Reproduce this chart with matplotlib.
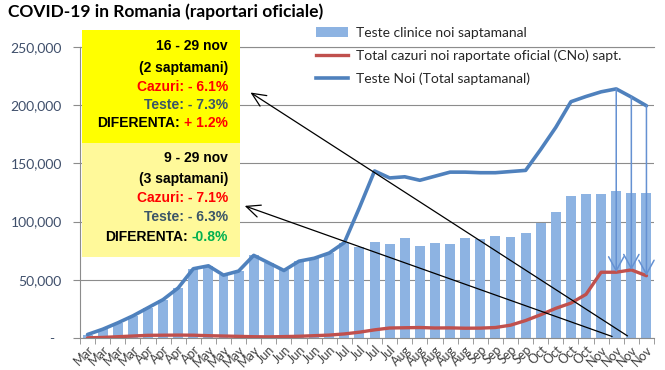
import numpy as np
import matplotlib
matplotlib.use('Agg')
import matplotlib.pyplot as plt
from matplotlib.patches import Rectangle, Patch
from matplotlib.lines import Line2D
from matplotlib.ticker import FuncFormatter

# Date saptamanale (martie - noiembrie 2020)
luni = (['Mar'] * 4 + ['Apr'] * 4 + ['May'] * 4 + ['Jun'] * 5 + ['Jul'] * 4
        + ['Aug'] * 5 + ['Sep'] * 4 + ['Oct'] * 4 + ['Nov'] * 4)

teste_clinice = [3000, 7500, 13000, 19000, 26000, 33000, 43000, 59500, 62000, 54000,
                 57500, 71000, 64500, 58000, 66000, 68500, 73000, 82000, 78500, 82500,
                 80500, 85500, 79000, 81500, 80500, 86000, 85000, 87500, 87000, 90000,
                 98500, 108500, 122000, 124000, 123500, 126500, 125000, 125000]

teste_total = [3000, 7500, 13000, 19000, 26000, 33000, 43000, 59500, 62000, 54000,
               57500, 71000, 64500, 58000, 66000, 68500, 73000, 82000, 112000, 143500,
               137500, 138500, 135500, 139000, 142500, 142500, 142000, 142000, 143000, 144000,
               162000, 181000, 203000, 207500, 211500, 214000, 207000, 199500]

cazuri = [150, 500, 1100, 1700, 2300, 2400, 2500, 2400, 2000, 1700,
          1400, 1100, 1000, 1200, 1500, 2000, 2500, 3500, 5000, 7000,
          8600, 8800, 9000, 8600, 8700, 8400, 8500, 9000, 11000, 15000,
          20000, 25500, 30000, 37500, 56500, 56500, 58500, 53500]

# saptamanile cu sageti verticale (ultimele 3)
sapt_sageti = [35, 36, 37]

plt.rcParams['font.family'] = ['Lato', 'DejaVu Sans']
font_box = 'Liberation Sans'

W, H = 665, 370
fig = plt.figure(figsize=(W / 100, H / 100), dpi=100)
ax = fig.add_axes([80 / W, 1 - 338 / H, (654 - 80) / W, (338 - 47) / H])

x = np.arange(len(luni))
c_bar = '#8DB3E2'
c_blue = '#4F81BD'
c_red = '#C0504D'
c_grid = '#8C8C8C'

ax.bar(x, teste_clinice, width=0.66, color=c_bar, zorder=2)
ax.plot(x, cazuri, color=c_red, lw=2.4, zorder=3, solid_capstyle='round')
ax.plot(x, teste_total, color=c_blue, lw=2.6, zorder=3, solid_capstyle='round')

ax.set_xlim(-0.5, len(luni) - 0.5)
ax.set_ylim(0, 250000)
ax.set_yticks(np.arange(0, 250001, 50000))
ax.yaxis.set_major_formatter(FuncFormatter(lambda v, p: '-  ' if v == 0 else f'{v:,.0f}'))
ax.grid(axis='y', color=c_grid, lw=0.8, zorder=1)
ax.set_axisbelow(True)

ax.spines['right'].set_visible(False)
for s in ['left', 'bottom', 'top']:
    ax.spines[s].set_color(c_grid)
    ax.spines[s].set_linewidth(0.8)

ax.set_xticks(x)
ax.set_xticklabels(luni, rotation=45, ha='right', va='top', rotation_mode='anchor',
                   fontsize=9, color='#404040')
ax.set_xticks(np.arange(-0.5, len(luni), 1), minor=True)
ax.tick_params(axis='x', which='major', length=0, pad=4)
ax.tick_params(axis='x', which='minor', length=4, color=c_grid)
ax.tick_params(axis='y', length=5, color=c_grid, labelsize=10, labelcolor='#3F4F6B', pad=8)

# sageti verticale teste -> cazuri
for i in sapt_sageti:
    ax.annotate('', xy=(i, cazuri[i]), xytext=(i, teste_total[i]),
                arrowprops=dict(arrowstyle='->,head_length=1.0,head_width=0.55',
                                color='#6591D2', lw=1.1, shrinkA=0, shrinkB=0), zorder=5)

# sageti negre catre casete
ax.annotate('', xy=(10.63, 212200), xytext=(35.9, 500), annotation_clip=False,
            arrowprops=dict(arrowstyle='->,head_length=1.0,head_width=0.45', color='black', lw=0.9),
            zorder=6)
ax.annotate('', xy=(10.23, 114300), xytext=(34.9, 500), annotation_clip=False,
            arrowprops=dict(arrowstyle='->,head_length=1.0,head_width=0.45', color='black', lw=0.9),
            zorder=6)

# titlu
fig.text(8 / W, 1 - 12 / H, 'COVID-19 in Romania (raportari oficiale)', fontsize=12.5,
         fontweight='bold', ha='left', va='center', color='black')

# legenda
handles = [Patch(facecolor=c_bar), Line2D([], [], color=c_red, lw=2.4),
           Line2D([], [], color=c_blue, lw=2.6)]
labels = ['Teste clinice noi saptamanal', 'Total cazuri noi raportate oficial (CNo) sapt.',
          'Teste Noi (Total saptamanal)']
fig.legend(handles, labels, loc='upper left', bbox_to_anchor=(316 / W, 1 - 27 / H),
           frameon=False, fontsize=10, handlelength=2.3, handletextpad=0.55,
           labelspacing=0.75, borderpad=0, borderaxespad=0, labelcolor='#262626')

# casete galbene
fig.add_artist(Rectangle((82 / W, 1 - 143 / H), (240 - 82) / W, (143 - 30) / H,
                         transform=fig.transFigure, facecolor='#FFFF00', edgecolor='none', zorder=4))
fig.add_artist(Rectangle((82 / W, 1 - 257 / H), (240 - 82) / W, (257 - 143) / H,
                         transform=fig.transFigure, facecolor='#FFF99A', edgecolor='none', zorder=4))

c_teste = '#3B5568'
xr = 228 / W


def rand(y, txt, col='black'):
    return fig.text(xr, 1 - y / H, txt, ha='right', va='center', color=col, fontsize=10,
                    fontweight='bold', family=font_box, zorder=7)


rand(46, '16 - 29 nov')
rand(68, '(2 saptamani)')
rand(87, 'Cazuri: - 6.1%', '#FF0000')
rand(105, 'Teste: - 7.3%', c_teste)
d1 = rand(123, '+ 1.2%', '#FF0000')

rand(158, '9 - 29 nov')
rand(179, '(3 saptamani)')
rand(198, 'Cazuri: - 7.1%', '#FF0000')
rand(217, 'Teste: - 6.3%', c_teste)
d2 = rand(237, '-0.8%', '#00B050')

# "DIFERENTA:" lipit in stanga valorii
fig.canvas.draw()
for t, y in [(d1, 123), (d2, 237)]:
    bb = t.get_window_extent()
    fig.text((bb.x0 - 4) / W, 1 - y / H, 'DIFERENTA:', ha='right', va='center', color='black',
             fontsize=10, fontweight='bold', family=font_box, zorder=7)

fig.savefig('out.png', dpi=100)
